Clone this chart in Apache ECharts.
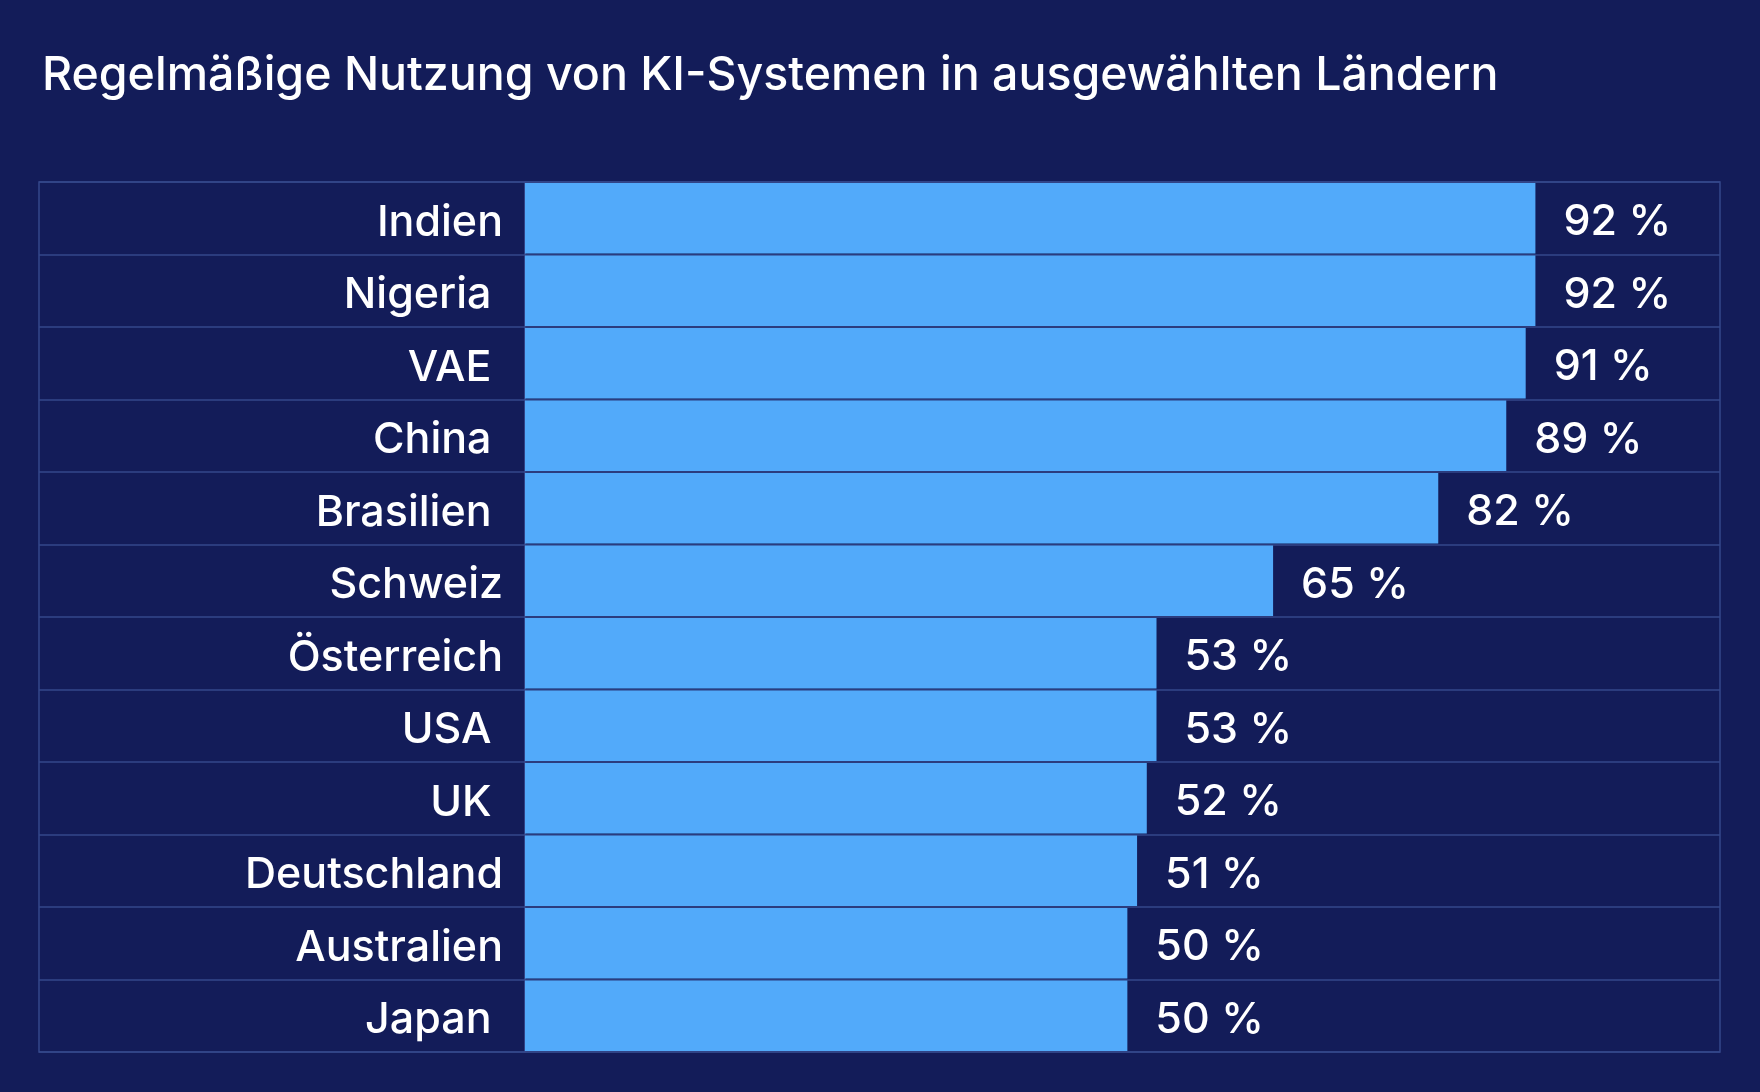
<!DOCTYPE html>
<html>
<head>
<meta charset="utf-8">
<title>Regelmäßige Nutzung von KI-Systemen</title>
<script src="https://cdn.jsdelivr.net/npm/echarts@6/dist/echarts.min.js"></script>
<style>
    html, body { margin: 0; padding: 0; background: #131c59; }
    #chart { width: 1760px; height: 1092px; }
</style>
</head>
<body>
<div id="chart"></div>
<script>
// Daten – einige Namen haben wie im Original ein Leerzeichen am Ende
const countries = ["Indien", "Nigeria ", "VAE ", "China ", "Brasilien ", "Schweiz", "Österreich", "USA ", "UK ", "Deutschland", "Australien", "Japan "];
const shares = [92, 92, 91, 89, 82, 65, 53, 53, 52, 51, 50, 50];

// Skala der Balken (Achse selbst ist unsichtbar)
const axisMin = -12;
const axisMax = 111;

const BG = "#131c59";
const BAR = "#52aafa";
const LINE = "#35478b";
const FONT = "Inter, 'Liberation Sans', sans-serif";

const chart = echarts.init(document.getElementById("chart"));

const option = {
    backgroundColor: BG,
    animation: false,
    title: {
        text: "Regelmäßige Nutzung von KI-Systemen in ausgewählten Ländern",
        left: 37,
        top: 48,
        textStyle: { color: "#fff", fontSize: 46.5, fontWeight: 500, fontFamily: FONT },
    },
    grid: [
        // Spalte mit den Ländernamen
        { left: 39, width: 486, top: 182, height: 870, show: true, borderColor: LINE, borderWidth: 1.5 },
        // Balkenbereich
        { left: 525, right: 40, top: 182, height: 870, show: true, borderColor: LINE, borderWidth: 1.5 },
    ],
    xAxis: [
        { gridIndex: 0, type: "value", show: false },
        { gridIndex: 1, type: "value", min: axisMin, max: axisMax, show: false },
    ],
    yAxis: [
        {
            gridIndex: 0,
            type: "category",
            inverse: true,
            data: countries,
            axisLine: { show: false },
            axisTick: { show: false },
            axisLabel: { show: false },
            splitLine: { show: true, interval: 0, lineStyle: { color: LINE, width: 1.5 } },
        },
        {
            gridIndex: 1,
            type: "category",
            inverse: true,
            data: countries,
            axisLine: { show: false },
            axisTick: { show: false },
            axisLabel: {
                color: "#fff",
                fontSize: 43,
                fontWeight: 500,
                fontFamily: FONT,
                margin: 22,
                interval: 0,
                verticalAlign: "top",
                lineHeight: 9,
            },
            splitLine: { show: true, interval: 0, lineStyle: { color: LINE, width: 1.5 } },
        },
    ],
    series: [
        {
            type: "custom",
            xAxisIndex: 1,
            yAxisIndex: 1,
            data: shares.map((v, i) => [v, i]),
            encode: { x: 0, y: 1 },
            renderItem: function (params, api) {
                const val = api.value(0);
                const idx = api.value(1);
                const start = api.coord([axisMin, idx]);
                const end = api.coord([val, idx]);
                const band = api.size([0, 1])[1];
                return {
                    type: "group",
                    children: [
                        {
                            type: "rect",
                            shape: { x: start[0], y: end[1] - band / 2 + 1, width: end[0] - start[0], height: band - 2 },
                            style: { fill: BAR },
                        },
                        {
                            type: "text",
                            x: end[0] + 28,
                            y: end[1] + 4,
                            style: {
                                text: val + " %",
                                fill: "#fff",
                                font: "500 43px " + FONT,
                                verticalAlign: "middle",
                                align: "left",
                            },
                        },
                    ],
                };
            },
        },
    ],
};

chart.setOption(option);
</script>
</body>
</html>
